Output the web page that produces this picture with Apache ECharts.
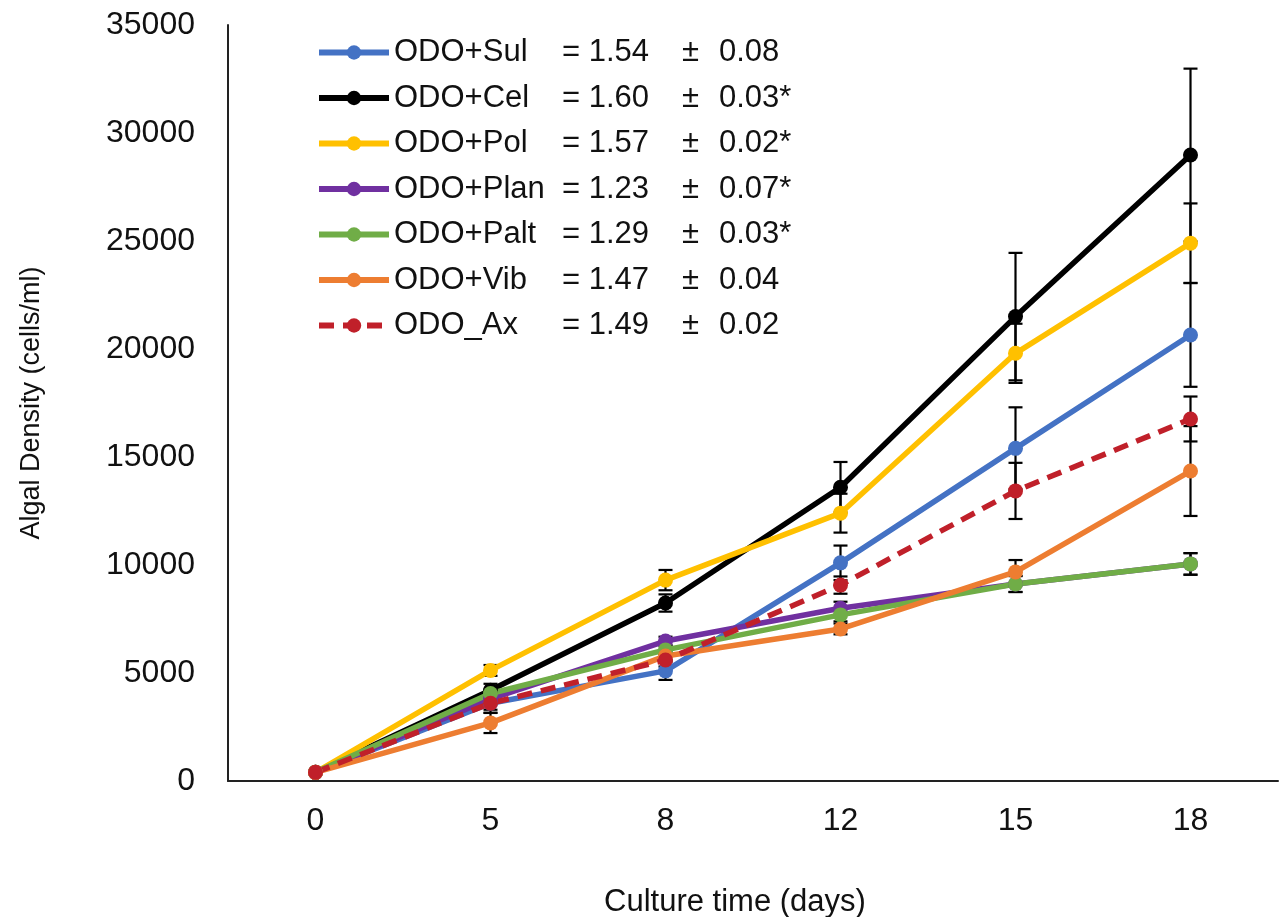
<!DOCTYPE html>
<html>
<head>
<meta charset="utf-8">
<script src="https://cdn.jsdelivr.net/npm/echarts@6/dist/echarts.min.js"></script>
<style>
  html, body { margin: 0; padding: 0; background: #fff; }
  #chart { width: 1279px; height: 917px; }
</style>
</head>
<body>
<div id="chart"></div>
<script>
// culture days (category axis)
var days = ['0', '5', '8', '12', '15', '18']

var names = ['ODO+Sul', 'ODO+Cel', 'ODO+Pol', 'ODO+Plan', 'ODO+Palt', 'ODO+Vib', 'ODO_Ax']
var rates = ['= 1.54', '= 1.60', '= 1.57', '= 1.23', '= 1.29', '= 1.47', '= 1.49']
var rateSd = ['0.08', '0.03*', '0.02*', '0.07*', '0.03*', '0.04', '0.02']
var colors = ['#4472C4', '#000000', '#FFC000', '#7030A0', '#70AD47', '#ED7D31', '#C0202A']

// mean algal density (cells/ml)
var sul = [400, 3600, 5100, 10100, 15400, 20650]
var cel = [400, 4200, 8240, 13600, 21500, 28980]
var pol = [400, 5120, 9300, 12400, 19800, 24900]
var plan = [400, 3800, 6480, 8000, 9120, 10050]
var palt = [400, 4050, 6070, 7690, 9120, 10050]
var vib = [400, 2690, 5790, 7040, 9680, 14350]
var ax = [400, 3600, 5600, 9070, 13430, 16760]

// standard deviation
var sulErr = [0, 450, 420, 800, 1900, 2400]
var celErr = [0, 300, 400, 1170, 2950, 4000]
var polErr = [0, 250, 470, 900, 1370, 1840]
var planErr = [0, 200, 200, 300, 370, 500]
var paltErr = [0, 200, 200, 300, 370, 500]
var vibErr = [0, 470, 200, 250, 550, 2080]
var axErr = [0, 300, 300, 400, 1300, 1040]

var means = [sul, cel, pol, plan, palt, vib, ax]
var errs = [sulErr, celErr, polErr, planErr, paltErr, vibErr, axErr]

var font = 'Liberation Sans, Arial, sans-serif'

var errData = []
means.forEach(function (m, s) {
    m.forEach(function (v, i) {
        if (errs[s][i] > 0) errData.push([i, v, errs[s][i]])
    })
})

var renderErr = function (params, api) {
    var x = api.value(0), v = api.value(1), e = api.value(2)
    var top = api.coord([x, v + e])
    var bot = api.coord([x, v - e])
    var w = 7
    var st = { stroke: '#000', lineWidth: 2.2 }
    return {
        type: 'group',
        children: [
            { type: 'line', shape: { x1: top[0], y1: top[1], x2: bot[0], y2: bot[1] }, style: st },
            { type: 'line', shape: { x1: top[0] - w, y1: top[1], x2: top[0] + w, y2: top[1] }, style: st },
            { type: 'line', shape: { x1: bot[0] - w, y1: bot[1], x2: bot[0] + w, y2: bot[1] }, style: st }
        ]
    }
}

var series = names.map(function (n, s) {
    return {
        name: n,
        type: 'line',
        data: means[s],
        z: 3,
        symbol: 'circle',
        symbolSize: 15,
        itemStyle: { color: colors[s] },
        lineStyle: { width: 5.5, color: colors[s], type: s === 6 ? [15, 9] : 'solid' }
    }
})
series.push({
    type: 'custom',
    z: 2,
    renderItem: renderErr,
    encode: { x: 0, y: 1 },
    data: errData,
    silent: true
})

var mychart = echarts.init(document.getElementById('chart'))
var option = {
    animation: false,
    backgroundColor: '#fff',
    grid: { left: 228, right: 1, top: 25, bottom: 136, containLabel: false, outerBoundsMode: 'none' },
    legend: {
        orient: 'vertical',
        left: 311,
        top: 32,
        itemWidth: 70,
        itemHeight: 18,
        itemGap: 14.5,
        data: names,
        lineStyle: { width: 6 },
        formatter: function (n) {
            var i = names.indexOf(n)
            return '{a|' + n + '}{b|' + rates[i] + '}{c|±}{d|' + rateSd[i] + '}'
        },
        textStyle: {
            fontFamily: font,
            fontSize: 31,
            color: '#111',
            rich: {
                a: { width: 168, fontSize: 31, fontFamily: font, lineHeight: 35 },
                b: { width: 120, fontSize: 31, fontFamily: font, lineHeight: 35 },
                c: { width: 37, fontSize: 31, fontFamily: font, lineHeight: 35 },
                d: { fontSize: 31, fontFamily: font, lineHeight: 35 }
            }
        }
    },
    xAxis: {
        type: 'category',
        data: days,
        name: 'Culture time (days)',
        nameLocation: 'middle',
        nameGap: 106,
        nameTextStyle: { fontFamily: font, fontSize: 31, color: '#111', padding: [0, 36, 0, 0] },
        axisLine: { lineStyle: { color: '#222', width: 2 } },
        axisTick: { show: false },
        axisLabel: { fontFamily: font, fontSize: 32, color: '#111', margin: 24 },
        splitLine: { show: false }
    },
    yAxis: {
        type: 'value',
        min: 0,
        max: 35000,
        interval: 5000,
        name: 'Algal Density (cells/ml)',
        nameLocation: 'middle',
        nameGap: 183,
        nameTextStyle: { fontFamily: font, fontSize: 27, color: '#111' },
        axisLine: { show: true, lineStyle: { color: '#222', width: 2 } },
        axisTick: { show: false },
        axisLabel: {
            fontFamily: font, fontSize: 32, color: '#111', margin: 33,
            formatter: function (v) { return String(v) }
        },
        splitLine: { show: false }
    },
    series: series
}
mychart.setOption(option)
</script>
</body>
</html>
